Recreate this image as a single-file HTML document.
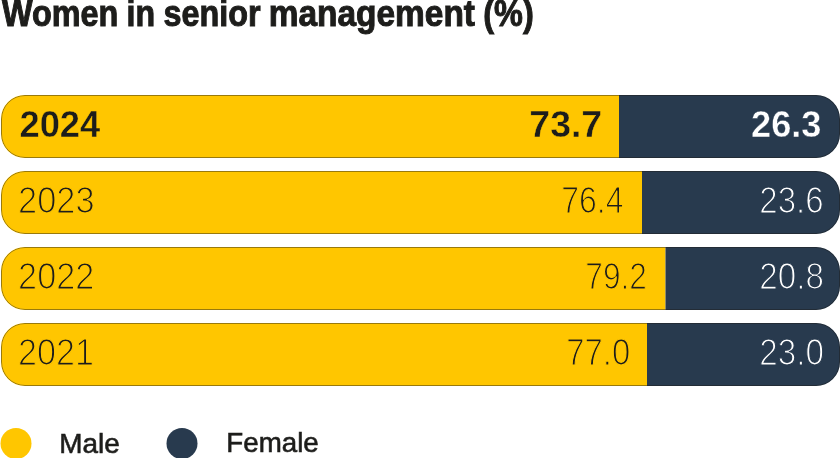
<!DOCTYPE html>
<html><head><meta charset="utf-8">
<style>
html,body{margin:0;padding:0;background:#fff;width:840px;height:458px;overflow:hidden;}
svg{display:block;will-change:transform;}
text{font-family:"Liberation Sans", sans-serif;}
</style></head>
<body>
<svg width="840" height="458" viewBox="0 0 840 458">
<defs>
<clipPath id="c0"><rect x="1" y="95" width="839" height="63" rx="24" ry="24"/></clipPath>
<clipPath id="c1"><rect x="1" y="171" width="839" height="63" rx="24" ry="24"/></clipPath>
<clipPath id="c2"><rect x="1" y="247" width="839" height="63" rx="24" ry="24"/></clipPath>
<clipPath id="c3"><rect x="1" y="323" width="839" height="63" rx="24" ry="24"/></clipPath>
</defs>
<g clip-path="url(#c0)"><rect x="0" y="95" width="619" height="63" fill="#ffc600"/><rect x="619" y="95" width="221" height="63" fill="#283a4e"/><rect x="1.5" y="95.5" width="838" height="62" rx="23.5" ry="23.5" fill="none" stroke="rgba(29,29,27,0.45)" stroke-width="1"/></g>
<g clip-path="url(#c1)"><rect x="0" y="171" width="642" height="63" fill="#ffc600"/><rect x="642" y="171" width="198" height="63" fill="#283a4e"/><rect x="1.5" y="171.5" width="838" height="62" rx="23.5" ry="23.5" fill="none" stroke="rgba(29,29,27,0.45)" stroke-width="1"/></g>
<g clip-path="url(#c2)"><rect x="0" y="247" width="665.5" height="63" fill="#ffc600"/><rect x="665.5" y="247" width="174.5" height="63" fill="#283a4e"/><rect x="1.5" y="247.5" width="838" height="62" rx="23.5" ry="23.5" fill="none" stroke="rgba(29,29,27,0.45)" stroke-width="1"/></g>
<g clip-path="url(#c3)"><rect x="0" y="323" width="647" height="63" fill="#ffc600"/><rect x="647" y="323" width="193" height="63" fill="#283a4e"/><rect x="1.5" y="323.5" width="838" height="62" rx="23.5" ry="23.5" fill="none" stroke="rgba(29,29,27,0.45)" stroke-width="1"/></g>
<text x="2.00" y="26" font-size="36" font-weight="bold" fill="#1d1d1b" stroke="#1d1d1b" stroke-width="1.0" textLength="116.41" lengthAdjust="spacingAndGlyphs">Women</text>
<text x="126.60" y="26" font-size="36" font-weight="bold" fill="#1d1d1b" stroke="#1d1d1b" stroke-width="1.0" textLength="28.52" lengthAdjust="spacingAndGlyphs">in</text>
<text x="163.46" y="26" font-size="36" font-weight="bold" fill="#1d1d1b" stroke="#1d1d1b" stroke-width="1.0" textLength="97.08" lengthAdjust="spacingAndGlyphs">senior</text>
<text x="268.76" y="26" font-size="36" font-weight="bold" fill="#1d1d1b" stroke="#1d1d1b" stroke-width="1.0" textLength="206.26" lengthAdjust="spacingAndGlyphs">management</text>
<text x="483.30" y="26" font-size="36" font-weight="bold" fill="#1d1d1b" stroke="#1d1d1b" stroke-width="1.0" textLength="50.45" lengthAdjust="spacingAndGlyphs">(%)</text>
<text x="19.50" y="137" font-size="36.4" font-weight="bold" fill="#1d1d1b" stroke="#ffc600" stroke-width="0.4" textLength="80.75" lengthAdjust="spacingAndGlyphs">2024</text>
<text x="529.30" y="137" font-size="36.4" font-weight="bold" fill="#1d1d1b" stroke="#ffc600" stroke-width="0.4" textLength="72.91" lengthAdjust="spacingAndGlyphs">73.7</text>
<text x="751.00" y="137" font-size="36.4" font-weight="bold" fill="#ffffff" stroke="#283a4e" stroke-width="0.4" textLength="70.47" lengthAdjust="spacingAndGlyphs">26.3</text>
<text x="18.10" y="213" font-size="36.4" font-weight="normal" fill="#1d1d1b" stroke="#ffc600" stroke-width="1.2" textLength="76.48" lengthAdjust="spacingAndGlyphs">2023</text>
<text x="561.30" y="213" font-size="36.4" font-weight="normal" fill="#1d1d1b" stroke="#ffc600" stroke-width="1.2" textLength="62.23" lengthAdjust="spacingAndGlyphs">76.4</text>
<text x="759.30" y="213" font-size="36.4" font-weight="normal" fill="#ffffff" stroke="#283a4e" stroke-width="1.2" textLength="64.35" lengthAdjust="spacingAndGlyphs">23.6</text>
<text x="18.10" y="289" font-size="36.4" font-weight="normal" fill="#1d1d1b" stroke="#ffc600" stroke-width="1.2" textLength="76.18" lengthAdjust="spacingAndGlyphs">2022</text>
<text x="585.30" y="289" font-size="36.4" font-weight="normal" fill="#1d1d1b" stroke="#ffc600" stroke-width="1.2" textLength="61.67" lengthAdjust="spacingAndGlyphs">79.2</text>
<text x="759.30" y="289" font-size="36.4" font-weight="normal" fill="#ffffff" stroke="#283a4e" stroke-width="1.2" textLength="64.66" lengthAdjust="spacingAndGlyphs">20.8</text>
<text x="18.10" y="365" font-size="36.4" font-weight="normal" fill="#1d1d1b" stroke="#ffc600" stroke-width="1.2" textLength="75.89" lengthAdjust="spacingAndGlyphs">2021</text>
<text x="566.30" y="365" font-size="36.4" font-weight="normal" fill="#1d1d1b" stroke="#ffc600" stroke-width="1.2" textLength="63.91" lengthAdjust="spacingAndGlyphs">77.0</text>
<text x="759.30" y="365" font-size="36.4" font-weight="normal" fill="#ffffff" stroke="#283a4e" stroke-width="1.2" textLength="64.66" lengthAdjust="spacingAndGlyphs">23.0</text>
<text x="59.30" y="453" font-size="28.5" font-weight="normal" fill="#1d1d1b" stroke="#1d1d1b" stroke-width="0.6" textLength="60.51" lengthAdjust="spacingAndGlyphs">Male</text>
<text x="226.30" y="452" font-size="28.5" font-weight="normal" fill="#1d1d1b" stroke="#1d1d1b" stroke-width="0.6" textLength="92.47" lengthAdjust="spacingAndGlyphs">Female</text>
<circle cx="16" cy="443.5" r="15.5" fill="#ffc600"/>
<circle cx="182" cy="443.5" r="15.5" fill="#283a4e"/>
</svg>
</body></html>
